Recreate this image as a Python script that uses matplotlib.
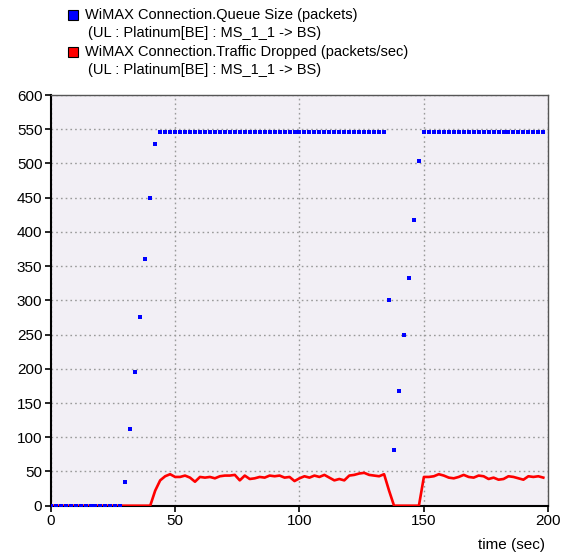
"""
Queue size and dropped traffic for the WiMAX UL connection
(Platinum[BE] : MS_1_1 -> BS), redrawn from the simulator plot.
"""

import matplotlib
matplotlib.use("Agg")
import matplotlib.pyplot as plt
from matplotlib.patches import Rectangle

plt.rcParams['font.family'] = ['Liberation Sans', 'DejaVu Sans']

# sample times (sec), one sample every 2 s
time_s = [0, 2, 4, 6, 8, 10, 12, 14, 16, 18, 20, 22, 24, 26, 28, 30, 32, 34,
          36, 38, 40, 42, 44, 46, 48, 50, 52, 54, 56, 58, 60, 62, 64, 66, 68,
          70, 72, 74, 76, 78, 80, 82, 84, 86, 88, 90, 92, 94, 96, 98, 100,
          102, 104, 106, 108, 110, 112, 114, 116, 118, 120, 122, 124, 126,
          128, 130, 132, 134, 136, 138, 140, 142, 144, 146, 148, 150, 152,
          154, 156, 158, 160, 162, 164, 166, 168, 170, 172, 174, 176, 178,
          180, 182, 184, 186, 188, 190, 192, 194, 196, 198]

# queue size (packets)
queue_size = [0, 0, 0, 0, 0, 0, 0, 0, 0, 0, 0, 0, 0, 0, 0, 35, 112, 195,
              276, 361, 450, 529, 546, 546, 546, 546, 546, 546, 546, 546,
              546, 546, 546, 546, 546, 546, 546, 546, 546, 546, 546, 546,
              546, 546, 546, 546, 546, 546, 546, 546, 546, 546, 546, 546,
              546, 546, 546, 546, 546, 546, 546, 546, 546, 546, 546, 546,
              546, 546, 300, 81, 168, 249, 332, 417, 504, 546, 546, 546,
              546, 546, 546, 546, 546, 546, 546, 546, 546, 546, 546, 546,
              546, 546, 546, 546, 546, 546, 546, 546, 546, 546]

# traffic dropped (packets/sec)
traffic_dropped = [0, 0, 0, 0, 0, 0, 0, 0, 0, 0, 0, 0, 0, 0, 0, 0, 0, 0,
                   0, 0, 0, 22, 37, 43, 46, 42, 42, 44, 41, 35, 42, 41, 42,
                   40, 43, 44, 44, 45, 37, 44, 39, 40, 42, 41, 44, 43, 44,
                   41, 42, 36, 40, 43, 41, 44, 42, 45, 41, 37, 39, 37, 44,
                   45, 47, 48, 45, 44, 43, 46, 22, 0, 0, 0, 0, 0, 0, 42, 42,
                   43, 46, 44, 41, 40, 42, 45, 42, 41, 44, 43, 39, 41, 38,
                   39, 43, 42, 40, 38, 43, 42, 43, 41]

legend_lines = ["WiMAX Connection.Queue Size (packets)",
                "WiMAX Connection.Traffic Dropped (packets/sec)"]
legend_sub = "(UL : Platinum[BE] : MS_1_1 -> BS)"

fig = plt.figure(figsize=(5.69, 5.54), dpi=100)
ax = fig.add_axes([0.0891, 0.0872, 0.8745, 0.7413])
ax.set_facecolor('#f2eff5')

ax.plot(time_s, traffic_dropped, color='#ff0000', linewidth=1.9, zorder=3)
ax.plot(time_s, queue_size, linestyle='none', marker='s', markersize=3.5,
        markeredgewidth=0, color='#0000ff', zorder=4)

ax.set_xlim(0, 200)
ax.set_ylim(0, 600)
ax.set_xticks([0, 50, 100, 150, 200])
ax.set_yticks(range(0, 601, 50))
ax.tick_params(labelsize=11, length=4, width=1.2, color='black', pad=2)
ax.grid(True, color='#9a9a9a', linestyle=(0, (1.2, 2.2)), linewidth=1.0)
ax.set_axisbelow(True)

for side in ['left', 'bottom']:
    ax.spines[side].set_linewidth(1.5)
    ax.spines[side].set_color('black')
for side in ['top', 'right']:
    ax.spines[side].set_linewidth(1.0)
    ax.spines[side].set_color('#555555')

fig.text(545 / 569, 1 - 545 / 554, "time (sec)", ha='right', va='center',
         fontsize=11)

# legend drawn in figure pixels at the top left
colors = ['#0000ff', '#ff0000']
for i, (label, col) in enumerate(zip(legend_lines, colors)):
    y_main = 15 + i * 37
    y_sub = y_main + 18
    fig.patches.append(Rectangle((68 / 569, 1 - (y_main + 5) / 554),
                                 10 / 569, 10 / 554, transform=fig.transFigure,
                                 facecolor=col, edgecolor='black',
                                 linewidth=0.8))
    fig.text(85 / 569, 1 - y_main / 554, label, ha='left', va='center',
             fontsize=10.5)
    fig.text(88 / 569, 1 - y_sub / 554, legend_sub, ha='left', va='center',
             fontsize=10.5)

fig.savefig('out.png', dpi=100)
